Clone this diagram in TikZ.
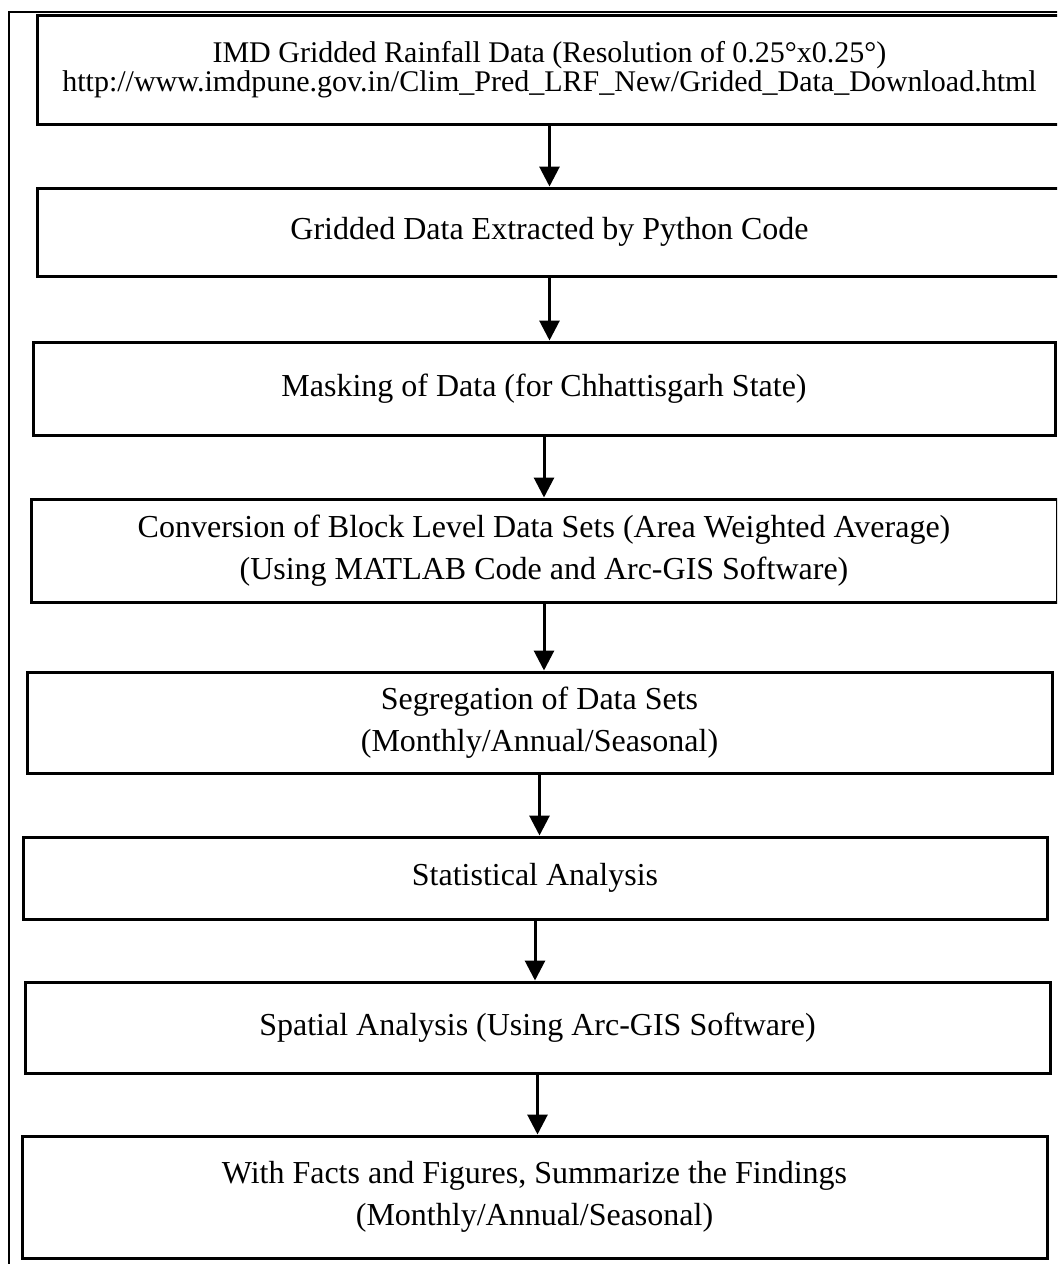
\documentclass[tikz,border=0pt]{standalone}
\usepackage{fontspec}
\setmainfont{Liberation Serif}
\usepackage{tikz}
\usetikzlibrary{arrows.meta, positioning}

\begin{document}
\begin{tikzpicture}[
  x=0.5pt, y=-0.5pt,
  flowbox/.style={draw=black, line width=1.5pt, align=center, inner sep=4pt, font=\fontsize{16}{21}\selectfont},
  flowarrow/.style={draw=black, line width=1.5pt, -{Triangle[length=10pt, width=10pt]}}
]
  \clip (0, 0) rectangle (1057, 1264);
  \draw[line width=0.75pt] (9, 1290) -- (9, 12) -- (1080, 12);

  \node[flowbox, minimum width=512.5pt, minimum height=54.5pt, font=\fontsize{15}{14.5}\selectfont] (b1) at (549.5, 70)
    {IMD Gridded Rainfall Data (Resolution of 0.25°x0.25°)\\http://www.imdpune.gov.in/Clim\_Pred\_LRF\_New/Grided\_Data\_Download.html};
  \node[flowbox, minimum width=512.5pt, minimum height=44pt] (b2) at (549.5, 232) {Gridded Data Extracted by Python Code};
  \node[flowbox, minimum width=511pt, minimum height=46.5pt] (b3) at (544, 388.5) {Masking of Data (for Chhattisgarh State)};
  \node[flowbox, minimum width=513pt, minimum height=51.5pt] (b4) at (544, 550.5)
    {Conversion of Block Level Data Sets (Area Weighted Average)\\(Using MATLAB Code and Arc-GIS Software)};
  \node[flowbox, minimum width=512.5pt, minimum height=50.5pt] (b5) at (539.5, 722.5)
    {Segregation of Data Sets\\(Monthly/Annual/Seasonal)};
  \node[flowbox, minimum width=512pt, minimum height=41pt] (b6) at (535, 878) {Statistical Analysis};
  \node[flowbox, minimum width=512.5pt, minimum height=45.5pt] (b7) at (537.5, 1027.5) {Spatial Analysis (Using Arc-GIS Software)};
  \node[flowbox, minimum width=512.5pt, minimum height=61pt] (b8) at (534.5, 1197)
    {With Facts and Figures, Summarize the Findings\\(Monthly/Annual/Seasonal)};

  \foreach \a/\b in {b1/b2, b2/b3, b3/b4, b4/b5, b5/b6, b6/b7, b7/b8}
    \draw[flowarrow] (\a.south) -- (\a.south |- \b.north);
\end{tikzpicture}
\end{document}
